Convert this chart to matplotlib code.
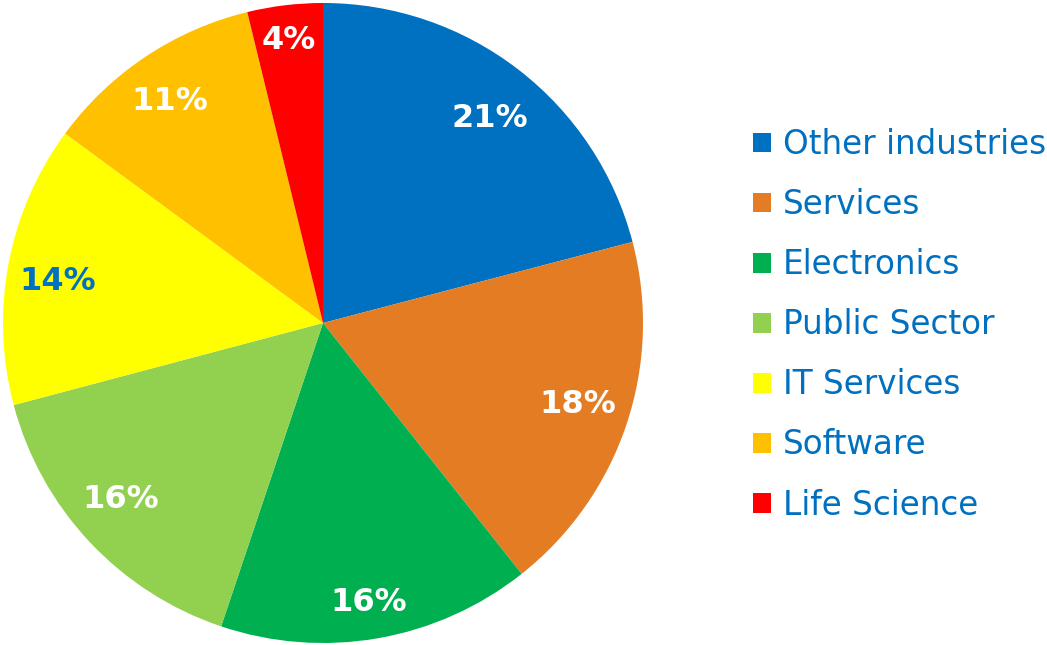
import matplotlib.pyplot as plt
import numpy as np

# Industry breakdown (shares, labels rounded)
industries = ["Other industries", "Services", "Electronics", "Public Sector",
              "IT Services", "Software", "Life Science"]
shares = [20.9, 18.4, 15.8, 15.7, 14.2, 11.1, 3.8]
colors = ["#0070C0", "#E47C24", "#00B050", "#92D050", "#FFFF00", "#FFC000", "#FF0000"]
label_colors = ["white", "white", "white", "white", "#0070C0", "white", "white"]
# label placement tweaks: radius (fraction of pie) and angle nudge (deg, clockwise)
label_radius = [0.825, 0.834, 0.884, 0.84, 0.838, 0.84, 0.89]
label_nudge = [1.6, -0.8, 0.7, 2.0, -1.9, -1.0, 0.0]

plt.rcParams["font.family"] = ["DejaVu Sans"]

fig = plt.figure(figsize=(10.47, 6.45), dpi=100)
ax = fig.add_axes([3 / 1047, 2 / 645, 640 / 1047, 640 / 645])

wedges, texts, autotexts = ax.pie(shares, colors=colors, startangle=90, counterclock=False,
                                  autopct="%.0f%%", pctdistance=0.84,
                                  textprops=dict(fontsize=23, fontweight="bold"))
ax.set_xlim(-1, 1)
ax.set_ylim(-1, 1)
ax.set_aspect("equal")

# move labels to where the reference puts them
for w, t, c, r, d in zip(wedges, autotexts, label_colors, label_radius, label_nudge):
    mid = np.deg2rad((w.theta1 + w.theta2) / 2 - d)
    t.set_position((r * np.cos(mid), r * np.sin(mid)))
    t.set_color(c)

leg = fig.legend(wedges, industries, loc="upper left", bbox_to_anchor=(753 / 1047, 1 - 128 / 645),
                 frameon=False, fontsize=23.5, handlelength=0.56, handleheight=0.56,
                 handletextpad=0.36, labelspacing=0.83, borderpad=0, borderaxespad=0)
for t in leg.get_texts():
    t.set_color("#0070C0")

fig.savefig("out.png", dpi=100)
